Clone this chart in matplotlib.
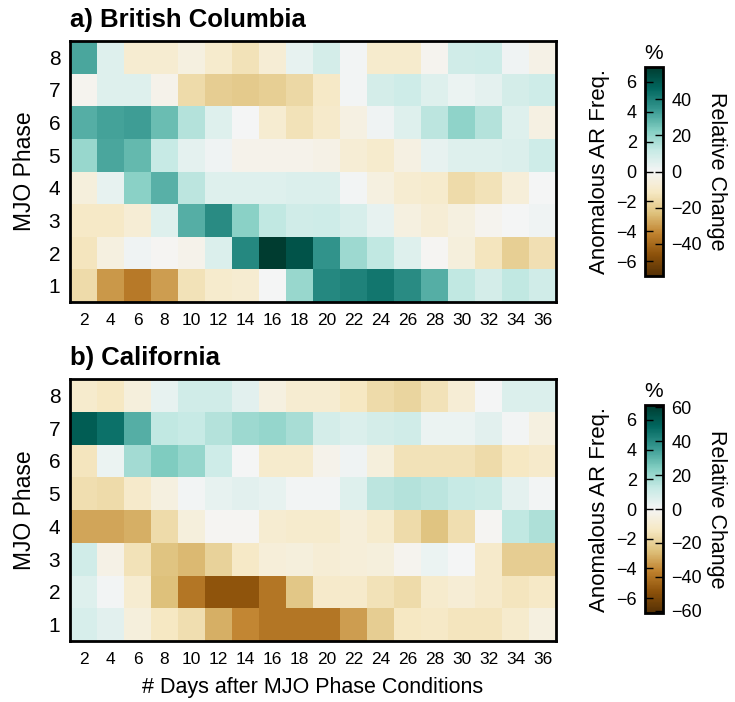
import matplotlib.pyplot as plt
import numpy as np

plt.rcParams['font.family'] = ['Liberation Sans', 'DejaVu Sans']

days = list(range(2, 37, 2))
phases = list(range(1, 9))

# anomalous AR frequency (%), rows = MJO phase 1..8, cols = days 2..36
bc = [
    [-1.9, -3.7, -4.4, -3.6, -1.6, -1.1, -1.0, 0.0, 2.3, 4.6, 4.8, 5.1, 4.5, 3.6, 1.5, 1.0, 1.5, 1.1],
    [-1.5, -0.6, 0.2, -0.1, -0.3, 0.8, 4.6, 7.0, 6.2, 4.3, 2.2, 1.5, 0.7, -0.1, -0.7, -1.5, -2.3, -1.7],
    [-1.3, -1.3, -0.9, 0.7, 3.6, 4.5, 2.6, 1.5, 1.1, 1.2, 0.9, 0.4, -0.6, -0.9, -0.6, -0.2, 0.0, 0.2],
    [-0.7, 0.4, 2.6, 3.5, 1.6, 0.7, 0.7, 0.7, 0.8, 0.8, 0.1, -0.6, -1.0, -1.1, -1.9, -1.6, -0.8, 0.0],
    [2.3, 3.8, 3.3, 1.4, 0.5, 0.2, -0.3, -0.3, -0.3, -0.4, -0.9, -1.1, -0.5, 0.4, 0.7, 0.7, 0.8, 1.2],
    [3.6, 3.9, 4.0, 3.2, 1.8, 0.7, 0.0, -1.0, -1.6, -1.2, -0.5, 0.2, 0.7, 1.6, 2.5, 1.8, 0.7, -0.5],
    [-0.2, 0.7, 0.7, -0.3, -1.9, -2.4, -2.5, -2.3, -2.0, -1.3, 0.1, 1.0, 1.2, 0.7, 0.3, 0.5, 1.0, 1.2],
    [3.8, 0.7, -1.0, -1.0, -0.6, -1.1, -1.6, -0.9, 0.4, 1.0, 0.1, -1.1, -1.1, -0.2, 1.1, 1.2, 0.2, -0.4],
]
ca = [
    [0.9, 0.6, -0.7, -1.4, -1.8, -3.2, -4.1, -4.5, -4.5, -4.5, -3.6, -2.4, -1.4, -1.3, -1.5, -1.5, -1.1, -0.6],
    [0.7, 0.1, -1.0, -2.8, -4.5, -5.5, -5.5, -4.5, -2.6, -1.2, -1.2, -1.6, -1.9, -1.1, -0.9, -1.2, -1.5, -1.3],
    [1.1, -0.4, -1.6, -2.7, -3.0, -2.2, -1.3, -0.8, -0.7, -0.9, -0.8, -0.7, -0.2, 0.3, 0.0, -1.2, -2.4, -2.4],
    [-3.4, -3.4, -3.2, -1.9, -0.7, -0.1, -0.1, -1.0, -1.1, -1.1, -0.8, -1.1, -1.9, -2.7, -1.8, -0.1, 1.5, 1.9],
    [-1.8, -1.9, -1.2, -0.6, 0.1, 0.4, 0.6, 0.4, 0.1, 0.1, 0.7, 1.6, 1.8, 1.6, 1.4, 1.3, 0.5, 0.1],
    [-1.5, 0.3, 2.1, 2.8, 2.4, 1.2, 0.0, -1.1, -1.1, -0.3, 0.2, -0.7, -1.6, -1.6, -1.6, -1.9, -1.4, -1.2],
    [5.9, 5.3, 3.6, 1.5, 1.4, 1.8, 2.2, 2.4, 2.0, 1.0, 0.8, 1.0, 1.1, 0.3, 0.3, 0.6, 0.1, -0.6],
    [-1.1, -1.4, -0.7, 0.4, 1.1, 1.1, 0.6, -0.6, -1.0, -1.0, -1.4, -1.9, -2.1, -1.6, -0.9, 0.0, 0.8, 0.8],
]

# relative change (%) per 1% anomaly
rel_scale = [8.26, 8.75]
rel_ticks = [[-40, -20, 0, 20, 40], [-60, -40, -20, 0, 20, 40, 60]]
titles = ['a) British Columbia', 'b) California']

W, H = 735, 702
fig = plt.figure(figsize=(W / 100, H / 100), dpi=100)

def box(x0, y0, x1, y1):
    return [x0 / W, 1 - y1 / H, (x1 - x0) / W, (y1 - y0) / H]

ax_boxes = [box(70, 41, 556, 302), box(70, 379, 556, 641)]
cb_boxes = [box(645, 67, 663, 276), box(645, 405, 663, 613)]

for k, data in enumerate([bc, ca]):
    ax = fig.add_axes(ax_boxes[k])
    im = ax.pcolormesh(np.arange(len(days) + 1), np.arange(len(phases) + 1),
                       np.array(data), cmap='BrBG', vmin=-7, vmax=7)
    ax.set_xticks(np.arange(len(days)) + 0.5)
    ax.set_xticklabels(days)
    ax.set_yticks(np.arange(len(phases)) + 0.5)
    ax.set_yticklabels(phases)
    ax.tick_params(axis='x', length=0, labelsize=12.5, pad=8)
    ax.tick_params(axis='y', length=0, labelsize=15, pad=7)
    for s in ax.spines.values():
        s.set_linewidth(2)
    ax.set_ylabel('MJO Phase', fontsize=16.5, labelpad=9)
    ax.set_title(titles[k], loc='left', fontsize=18.5, fontweight='bold', pad=10)
    if k == 1:
        ax.set_xlabel('# Days after MJO Phase Conditions', fontsize=15.5, labelpad=7)

    cax = fig.add_axes(cb_boxes[k])
    cb = fig.colorbar(im, cax=cax)
    cb.outline.set_linewidth(2)
    cb.set_ticks([-6, -4, -2, 0, 2, 4, 6])
    cax.yaxis.set_ticks_position('left')
    cax.yaxis.set_label_position('left')
    cax.tick_params(direction='in', length=6, labelsize=13, width=1, pad=6)
    cax.set_ylabel('Anomalous AR Freq.', fontsize=16, labelpad=4)
    cax.set_title('%', fontsize=15, pad=6)
    c2 = cax.twinx()
    c2.set_ylim(-7 * rel_scale[k], 7 * rel_scale[k])
    c2.set_yticks(rel_ticks[k])
    c2.tick_params(direction='in', length=6, labelsize=13, width=1, pad=6)
    c2.set_ylabel('Relative Change', fontsize=15.5, rotation=270, labelpad=18)
    for s in c2.spines.values():
        s.set_visible(False)

fig.savefig('out.png', dpi=100)
